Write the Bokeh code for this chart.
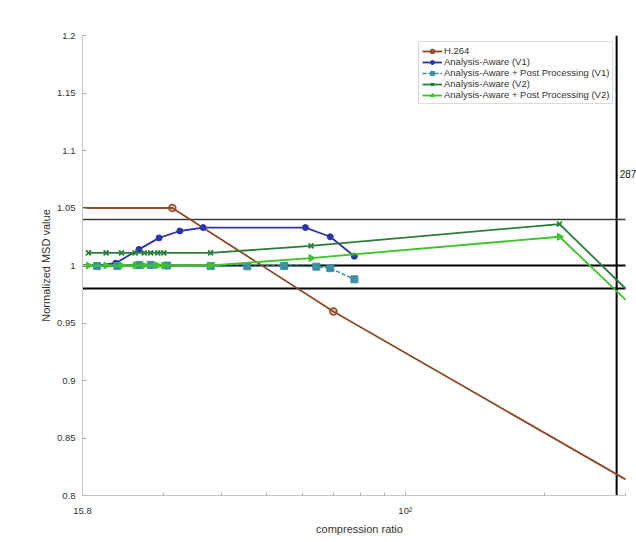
from bokeh.plotting import figure
from bokeh.models import (FixedTicker, Span, Label, Legend, LegendItem,
                          CustomJSTickFormatter)
from bokeh.embed import file_html
from bokeh.resources import INLINE

# ---- data -------------------------------------------------------------
h264_x = [15.8, 31.3, 69.9, 300]
h264_y = [1.05, 1.05, 0.96, 0.814]

v1_x = [21.5, 23.6, 26.5, 29.3, 32.5, 36.5, 60.8, 68.8, 77.6]
v1_y = [1.0, 1.002, 1.014, 1.024, 1.030, 1.033, 1.033, 1.025, 1.008]

v1pp_x = [21.5, 23.8, 26.5, 28.1, 30.5, 37.9, 45.5, 54.7, 64.2, 68.8, 77.6]
v1pp_y = [0.9995, 0.9995, 1.0005, 1.0005, 1.0, 0.9995, 0.9993, 0.9995,
          0.999, 0.9977, 0.988]

v2_x = [20.6, 22.5, 24.3, 26.0, 27.2, 28.1, 29.1, 30.0, 37.9, 62.5, 215.9, 300]
v2_y = [1.011, 1.011, 1.011, 1.011, 1.011, 1.011, 1.011, 1.011, 1.011,
        1.017, 1.036, 0.980]

v2pp_x = [20.6, 22.5, 24.3, 26.0, 27.2, 29.1, 30.0, 37.9, 62.5, 215.9, 300]
v2pp_y = [1.0, 1.0, 1.0, 1.0, 1.0, 1.0, 1.0, 1.0, 1.0065, 1.025, 0.9704]

thresholds = [1.04, 1.0, 0.98]
threshold_colors = ["#3a3a3a", "#000000", "#000000"]
threshold_widths = [1.6, 2.0, 1.8]
marker_x = 287

x_lo, x_hi = 20, 300
x_major = [20, 100]
x_minor = [30, 40, 50, 60, 70, 80, 90, 200, 300]
x_labels = {20: "15.8", 100: "10\u00b2"}
y_ticks = [0.8, 0.85, 0.9, 0.95, 1.0, 1.05, 1.1, 1.15, 1.2]

FONT = "Liberation Sans"

# frame runs to the right edge so the "287" tag has room; the axis and the
# reference lines stop at x_hi
p = figure(width=636, height=542, x_axis_type="log",
           x_range=(x_lo, 316.9), y_range=(0.8, 1.2),
           output_backend="svg", toolbar_location=None,
           min_border_left=82, min_border_right=0,
           min_border_top=35, min_border_bottom=47)
p.outline_line_color = None
p.xgrid.visible = False
p.ygrid.visible = False
p.background_fill_color = "white"
p.border_fill_color = "white"

# reference lines
p.segment(x0=[x_lo] * len(thresholds), y0=thresholds,
          x1=[x_hi] * len(thresholds), y1=thresholds,
          line_color=threshold_colors, line_width=threshold_widths)
p.add_layout(Span(location=marker_x, dimension="height", line_color="black",
                  line_width=2, level="underlay"))
p.add_layout(Label(x=marker_x, y=1.08, text=str(marker_x), x_offset=3,
                   text_baseline="middle", text_font=FONT,
                   text_font_size="10px", text_color="#222222"))

c_h264 = "#8c4a27"
c_v1 = "#2a35a8"
c_v1pp = "#3f8fa3"
c_v2 = "#2a7d3a"
c_v2pp = "#3dc42a"

# series that run into the right edge carry no marker on the edge point
l0 = p.line(h264_x, h264_y, line_color=c_h264, line_width=1.8)
m0 = p.scatter(h264_x[:-1], h264_y[:-1], marker="circle", size=7,
               line_color=c_h264, fill_color=c_h264, fill_alpha=0.35,
               line_width=1.5)

l1 = p.line(v1_x, v1_y, line_color=c_v1, line_width=1.8)
m1 = p.scatter(v1_x, v1_y, marker="circle", size=6, line_color=c_v1,
               fill_color=c_v1)

l2 = p.line(v1pp_x, v1pp_y, line_color=c_v1pp, line_width=1.6, line_dash="4 2")
m2 = p.scatter(v1pp_x, v1pp_y, marker="square", size=7, line_color=c_v1pp,
               fill_color=c_v1pp)

l3 = p.line(v2_x, v2_y, line_color=c_v2, line_width=1.8)
m3 = p.scatter(v2_x[:-1], v2_y[:-1], marker="x", size=7, line_color=c_v2,
               line_width=1.8)

l4 = p.line(v2pp_x, v2pp_y, line_color=c_v2pp, line_width=1.8)
m4 = p.scatter(v2pp_x[:-1], v2pp_y[:-1], marker="triangle", angle=-1.5708,
               size=7, line_color=c_v2pp, fill_color=c_v2pp)

# axes
for ax in (p.xaxis[0], p.yaxis[0]):
    ax.axis_line_color = "#c4c4c4"
    ax.major_tick_line_color = "#b0b0b0"
    ax.minor_tick_line_color = "#b0b0b0"
    ax.major_tick_in = 4
    ax.major_tick_out = 0
    ax.minor_tick_in = 3
    ax.minor_tick_out = 0
    ax.major_label_text_font = FONT
    ax.major_label_text_font_size = "9.5px"
    ax.major_label_text_color = "#333333"
    ax.axis_label_text_font = FONT
    ax.axis_label_text_font_size = "11px"
    ax.axis_label_text_font_style = "normal"
    ax.axis_label_text_color = "#333333"

p.xaxis.bounds = (x_lo, x_hi)
p.xaxis.ticker = FixedTicker(ticks=x_major, minor_ticks=x_minor)
p.xaxis.major_label_overrides = x_labels
p.xaxis.axis_label = "compression ratio"
p.xaxis.major_label_standoff = 9
p.xaxis.axis_label_standoff = 4

p.yaxis.ticker = FixedTicker(ticks=y_ticks)
p.yaxis.formatter = CustomJSTickFormatter(code="return tick.toString();")
p.yaxis.axis_label = "Normalized MSD value"
p.yaxis.major_label_standoff = 7
p.yaxis.axis_label_standoff = 2
p.yaxis.minor_tick_line_color = None

legend = Legend(items=[
    LegendItem(label="H.264", renderers=[l0, m0]),
    LegendItem(label="Analysis-Aware (V1)", renderers=[l1, m1]),
    LegendItem(label="Analysis-Aware + Post Processing (V1)", renderers=[l2, m2]),
    LegendItem(label="Analysis-Aware (V2)", renderers=[l3, m3]),
    LegendItem(label="Analysis-Aware + Post Processing (V2)", renderers=[l4, m4]),
], location=(336, 391), margin=0)
legend.label_text_font = FONT
legend.label_text_font_size = "9.5px"
legend.label_text_color = "#333333"
legend.label_height = 10
legend.glyph_height = 10
legend.glyph_width = 20
legend.label_standoff = 2
legend.spacing = 0
legend.padding = 3
legend.border_line_color = "#b8b8b8"
legend.border_line_width = 1
legend.background_fill_color = "white"
legend.background_fill_alpha = 1.0
p.add_layout(legend)

open("out.html", "w").write(file_html(p, INLINE))
